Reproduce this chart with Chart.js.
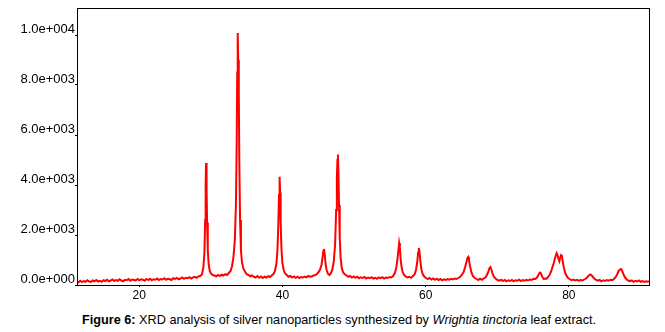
<!DOCTYPE html>
<html>
<head>
<meta charset="utf-8">
<script src="https://cdn.jsdelivr.net/npm/chart.js@4.4.1/dist/chart.umd.min.js"></script>
<style>
  html, body { margin: 0; padding: 0; background: #fff; }
  #wrap { position: relative; width: 665px; height: 332px; }
  #c { position: absolute; left: 0; top: 0; }
  #caption { position: absolute; left: 82px; top: 313px; font-family: "Liberation Sans", Arial, sans-serif; font-size: 12.7px; color: #000; white-space: nowrap; }
</style>
</head>
<body>
<div id="wrap">
  <canvas id="c" width="665" height="310"></canvas>
  <div id="caption"><b>Figure 6:</b> XRD analysis of silver nanoparticles synthesized by <i>Wrightia tinctoria</i> leaf extract.</div>
</div>
<script>
// 2-theta positions (degrees)
const twoTheta = [
  11.3, 11.5, 11.75, 12.0, 12.25, 12.5, 12.75, 13.0, 13.25, 13.5,
  13.75, 14.0, 14.25, 14.5, 14.75, 15.0, 15.25, 15.5, 15.75, 16.0,
  16.25, 16.5, 16.75, 17.0, 17.25, 17.5, 17.75, 18.0, 18.25, 18.5,
  18.75, 19.0, 19.25, 19.5, 19.75, 20.0, 20.25, 20.5, 20.75, 21.0,
  21.25, 21.5, 21.75, 22.0, 22.25, 22.5, 22.75, 23.0, 23.25, 23.5,
  23.75, 24.0, 24.25, 24.5, 24.75, 25.0, 25.25, 25.5, 25.75, 26.0,
  26.25, 26.5, 26.75, 27.0, 27.25, 27.5, 27.75, 28.0, 28.25, 28.5,

  28.75, 28.95, 29.1, 29.2, 29.27, 29.33, 29.4, 29.47, 29.57, 29.7,
  29.85, 30.0, 30.25, 30.5, 30.75, 31.0, 31.25, 31.5, 31.75, 32.0,
  32.25, 32.5, 32.75, 32.95, 33.15, 33.35, 33.5, 33.6, 33.68, 33.75,
  33.82, 33.9, 33.98, 34.08, 34.2, 34.35, 34.55, 34.8, 35.0, 35.25,

  35.5, 35.75, 36.0, 36.25, 36.5, 36.75, 37.0, 37.25, 37.5, 37.75,
  38.0, 38.25, 38.5, 38.75, 38.95, 39.15, 39.3, 39.42, 39.52, 39.6,
  39.67, 39.75, 39.85, 39.98, 40.15, 40.35, 40.6, 40.85, 41.1, 41.35,
  41.6, 41.85, 42.1, 42.35, 42.6, 42.85, 43.1, 43.35, 43.6, 43.85,
  44.1, 44.35, 44.6, 44.85, 45.05, 45.25, 45.45, 45.6, 45.7, 45.8,

  45.9, 46.0, 46.15, 46.35, 46.55, 46.75, 46.95, 47.15, 47.35, 47.5,
  47.6, 47.68, 47.75, 47.82, 47.9, 48.0, 48.12, 48.27, 48.45, 48.7,
  48.95, 49.2, 49.45, 49.7, 49.95, 50.2, 50.45, 50.7, 50.95, 51.2,

  51.45, 51.7, 51.95, 52.2, 52.45, 52.7, 52.95, 53.2, 53.45, 53.7,
  53.95, 54.2, 54.45, 54.7, 54.95, 55.2, 55.45, 55.7, 55.9, 56.05,
  56.2, 56.3, 56.4, 56.52, 56.65, 56.8, 57.0, 57.2, 57.45, 57.7,
  57.95, 58.2, 58.45, 58.65, 58.82, 58.95, 59.05, 59.15, 59.28, 59.42,
  59.6, 59.8, 60.05, 60.3, 60.55, 60.8, 61.05, 61.3, 61.55, 61.8,

  62.05, 62.3, 62.55, 62.8, 63.05, 63.3, 63.55, 63.8, 64.05, 64.3,
  64.55, 64.8, 65.05, 65.3, 65.5, 65.68, 65.85, 65.95, 66.05, 66.2,
  66.4, 66.6, 66.85, 67.1, 67.35, 67.6, 67.85, 68.1, 68.35, 68.55,
  68.75, 68.92, 69.05, 69.18, 69.35, 69.55, 69.8, 70.05, 70.3, 70.55,
  70.8, 71.05, 71.3, 71.55, 71.8, 72.05, 72.3, 72.55, 72.8, 73.05,

  73.3, 73.55, 73.8, 74.05, 74.3, 74.55, 74.8, 75.05, 75.3, 75.55,
  75.75, 75.9, 76.0, 76.12, 76.3, 76.5, 76.7, 76.9, 77.1, 77.3,
  77.5, 77.7, 77.9, 78.05, 78.2, 78.3, 78.4, 78.55, 78.68, 78.8,
  78.92, 79.02, 79.15, 79.3, 79.5, 79.7, 79.9, 80.15, 80.4, 80.65,
  80.9, 81.15, 81.4, 81.65, 81.9, 82.15, 82.4, 82.6, 82.8, 83.0,

  83.15, 83.35, 83.55, 83.8, 84.05, 84.3, 84.55, 84.8, 85.05, 85.3,
  85.55, 85.8, 86.05, 86.3, 86.55, 86.75, 86.95, 87.15, 87.3, 87.45,
  87.65, 87.85, 88.05, 88.3, 88.55, 88.8, 89.05, 89.3, 89.55, 89.8,
  90.05, 90.3, 90.55, 90.8, 91.05, 91.25
];

const intensity = [
  150, 110, 170, 120, 160, 130, 190, 140, 120, 180,
  150, 200, 140, 170, 130, 190, 160, 210, 150, 180,
  220, 160, 200, 170, 230, 180, 150, 210, 190, 240,
  170, 220, 200, 180, 240, 190, 230, 210, 170, 240,
  200, 250, 190, 230, 210, 260, 200, 240, 220, 270,
  210, 250, 230, 200, 270, 240, 280, 230, 260, 300,
  250, 290, 270, 310, 260, 300, 330, 290, 340, 360,

  420, 700, 1300, 2600, 4000, 4880, 3900, 2500, 1400, 800,
  560, 460, 400, 380, 350, 400, 360, 410, 380, 430,
  400, 480, 560, 750, 1100, 1800, 3200, 5500, 8500, 10080,
  9000, 7600, 4800, 2600, 1400, 900, 650, 520, 430, 400,

  350, 380, 330, 300, 360, 290, 340, 280, 330, 300,
  350, 320, 380, 440, 560, 850, 1400, 2400, 3600, 4330,
  3700, 2500, 1500, 900, 620, 470, 400, 330, 360, 300,
  340, 290, 330, 280, 320, 300, 340, 310, 360, 330,
  340, 380, 400, 450, 520, 620, 800, 1100, 1350, 1440,

  1250, 900, 620, 450, 400, 460, 600, 900, 1600, 3000,
  4300, 5000, 5220, 4500, 3200, 1900, 1100, 700, 520, 430,
  380, 330, 360, 300, 340, 290, 330, 270, 310, 280,

  320, 260, 300, 270, 310, 260, 290, 250, 300, 270,
  310, 260, 300, 280, 320, 300, 360, 480, 700, 1000,
  1400, 1680, 1500, 1000, 700, 500, 400, 340, 300, 330,
  290, 350, 420, 600, 900, 1300, 1480, 1300, 900, 600,
  430, 340, 280, 240, 280, 220, 260, 210, 250, 200,

  240, 190, 230, 200, 240, 210, 250, 220, 260, 240,
  280, 320, 400, 520, 700, 900, 1080, 1120, 1000, 750,
  500, 360, 280, 240, 200, 250, 210, 260, 300, 400,
  520, 680, 720, 620, 450, 320, 250, 200, 170, 210,
  160, 200, 150, 190, 160, 200, 150, 190, 170, 210,

  160, 200, 170, 210, 180, 220, 200, 250, 240, 300,
  400, 480, 500, 460, 320, 240, 260, 250, 320, 400,
  520, 700, 880, 1050, 1200, 1280, 1220, 1050, 950, 1100,
  1200, 1180, 950, 700, 480, 350, 280, 230, 190, 220,
  180, 210, 170, 200, 180, 220, 260, 320, 380, 420,

  400, 330, 260, 200, 170, 200, 150, 190, 160, 200,
  170, 210, 190, 240, 320, 420, 560, 620, 640, 560,
  420, 300, 230, 180, 150, 180, 130, 170, 140, 180,
  130, 160, 120, 150, 130, 140
];

// axis ticks
const xTickValues = [20, 40, 60, 80];
const yTickValues = [0, 2000, 4000, 6000, 8000, 10000];
const yTickLabels = ['0.0e+000', '2.0e+003', '4.0e+003', '6.0e+003', '8.0e+003', '1.0e+004'];

const points = twoTheta.map((x, i) => ({ x: x, y: intensity[i] }));

const framePlugin = {
  id: 'frame',
  afterDraw(chart) {
    const a = chart.chartArea;
    const ctx = chart.ctx;
    ctx.save();
    ctx.strokeStyle = '#000';
    ctx.lineWidth = 1;
    ctx.strokeRect(a.left + 0.5, a.top + 0.5, a.right - a.left, a.bottom - a.top);
    ctx.restore();
  }
};

new Chart(document.getElementById('c'), {
  type: 'line',
  data: {
    datasets: [{
      data: points,
      borderColor: '#ff0000',
      borderWidth: 2,
      pointRadius: 0,
      tension: 0,
      fill: false
    }]
  },
  options: {
    responsive: false,
    animation: false,
    layout: { padding: { left: 0, top: 8, right: 16, bottom: 0 } },
    plugins: { legend: { display: false }, tooltip: { enabled: false } },
    scales: {
      x: {
        type: 'linear',
        min: 11.3,
        max: 91.2,
        afterBuildTicks(s) { s.ticks = xTickValues.map(v => ({ value: v })); },
        afterFit(s) { s.height = 25; },
        ticks: {
          color: '#000',
          padding: 1,
          maxRotation: 0,
          font: { family: '"Liberation Sans", Arial, sans-serif', size: 12 },
          callback: v => String(v)
        },
        grid: { display: true, drawOnChartArea: false, drawTicks: true, tickLength: 2, color: '#000' },
        border: { display: false }
      },
      y: {
        type: 'linear',
        min: 0,
        max: 11080,
        afterBuildTicks(s) { s.ticks = yTickValues.map(v => ({ value: v })); },
        afterFit(s) { s.width = 77; },
        ticks: {
          color: '#000',
          padding: 0,
          labelOffset: -6,
          font: { family: '"Liberation Sans", Arial, sans-serif', size: 13 },
          callback: v => yTickLabels[yTickValues.indexOf(v)]
        },
        grid: { display: true, drawOnChartArea: false, drawTicks: true, tickLength: 2, color: '#000' },
        border: { display: false }
      }
    }
  },
  plugins: [framePlugin]
});
</script>
</body>
</html>
